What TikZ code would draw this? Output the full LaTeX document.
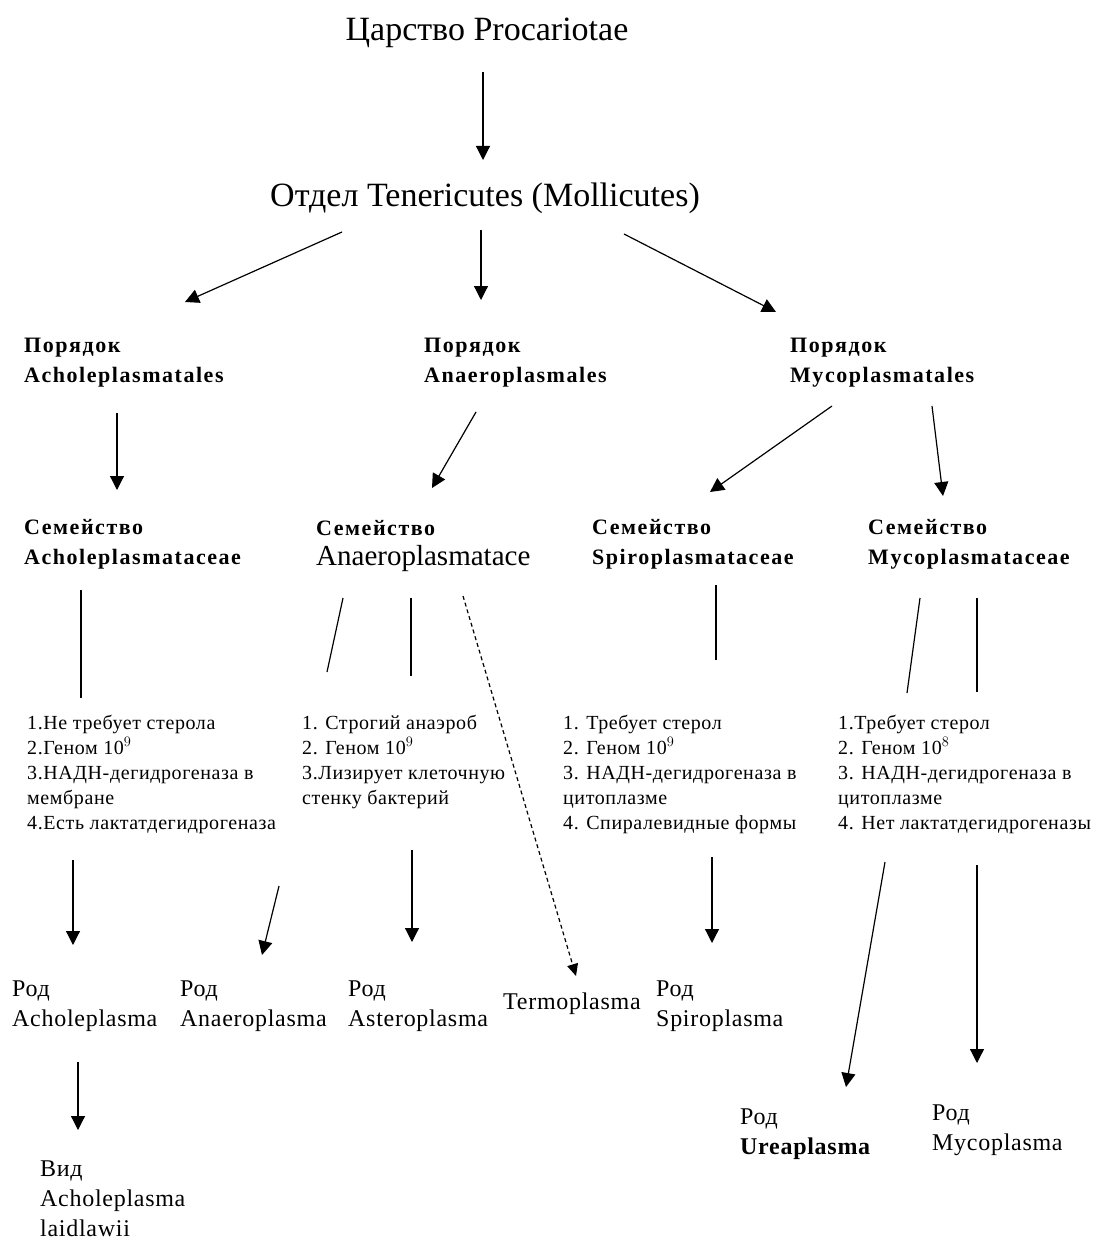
\documentclass[tikz,border=0pt]{standalone}
\usepackage{fontspec}
\setmainfont{Liberation Serif}
\usetikzlibrary{arrows.meta}
\newfontfamily\boldsp[LetterSpace=7]{Liberation Serif Bold}
\newfontfamily\regsp[LetterSpace=3]{Liberation Serif}
\begin{document}
\begin{tikzpicture}[x=1pt,y=-1pt,
  txt/.style={inner sep=0pt,anchor=base west,align=left},
  ttl/.style={inner sep=0pt,anchor=base,font=\fontsize{34}{38}\selectfont},
  hd/.style={txt,font=\boldsp\fontsize{22}{30}\selectfont},
  famr/.style={txt,font=\fontsize{29}{30}\selectfont},
  blk/.style={txt,font=\regsp\fontsize{20}{25}\selectfont},
  gen/.style={txt,font=\regsp\fontsize{24}{30}\selectfont},
  arr/.style={line width=1.2pt,-{Triangle[width=14pt,length=14pt]}},
  ln/.style={line width=1.2pt},
  dsh/.style={line width=1.2pt,dash pattern=on 4pt off 3pt,-{Triangle[width=11pt,length=12pt]}}]
\useasboundingbox (0,0) rectangle (1092,1241);
\fill[white] (0,0) rectangle (1092,1241);

% texts (base anchor = baseline of the last line)
\node[ttl] (kingdom) at (487,41) {Царство Procariotae};
\node[ttl] (division) at (485,207) {Отдел Tenericutes (Mollicutes)};

\node[hd] (o1) at (24,382) {Порядок\\Acholeplasmatales};
\node[hd] (o2) at (424,382) {Порядок\\Anaeroplasmales};
\node[hd] (o3) at (790,382) {Порядок\\Mycoplasmatales};

\node[hd] (f1) at (24,564) {Семейство\\Acholeplasmataceae};
\node[hd] (f2lab) at (316,535) {Семейство};
\node[famr] (f2) at (316,565) {Anaeroplasmatace};
\node[hd] (f3) at (592,564) {Семейство\\Spiroplasmataceae};
\node[hd] (f4) at (868,564) {Семейство\\Mycoplasmataceae};

\node[blk] (b1) at (27,829) {1.Не требует стерола\\2.Геном 10$^{9}$\\3.НАДН-дегидрогеназа в\\мембране\\4.Есть лактатдегидрогеназа};
\node[blk] (b2) at (302,804) {1. Строгий анаэроб\\2. Геном 10$^{9}$\\3.Лизирует клеточную\\стенку бактерий};
\node[blk] (b3) at (563,829) {1. Требует  стерол\\2. Геном 10$^{9}$\\3. НАДН-дегидрогеназа в\\цитоплазме\\4. Спиралевидные формы};
\node[blk] (b4) at (838,829) {1.Требует  стерол\\2. Геном 10$^{8}$\\3. НАДН-дегидрогеназа в\\цитоплазме\\4. Нет лактатдегидрогеназы};

\node[gen] (g1) at (12,1026) {Род\\Acholeplasma};
\node[gen] (g2) at (180,1026) {Род\\Anaeroplasma};
\node[gen] (g3) at (348,1026) {Род\\Asteroplasma};
\node[gen] (g4) at (503,1009) {Termoplasma};
\node[gen] (g5) at (656,1026) {Род\\Spiroplasma};
\node[gen] (g6) at (740,1154) {Род\\{\bfseries Ureaplasma}};
\node[gen] (g7) at (932,1150) {Род\\Mycoplasma};
\node[gen] (sp) at (40,1236) {Вид\\Acholeplasma\\laidlawii};

% connector end points
\coordinate (k0) at (483,72);   \coordinate (k1) at (483,160);
\coordinate (d0) at (342,232);  \coordinate (d1) at (185,302);
\coordinate (d2) at (481,230);  \coordinate (d3) at (481,300);
\coordinate (d4) at (624,234);  \coordinate (d5) at (776,312);
\coordinate (a0) at (117,413);  \coordinate (a1) at (117,490);
\coordinate (a2) at (476,412);  \coordinate (a3) at (432,488);
\coordinate (a4) at (832,406);  \coordinate (a5) at (710,492);
\coordinate (a6) at (932,406);  \coordinate (a7) at (943,496);
\coordinate (l0) at (81,590);   \coordinate (l1) at (81,698);
\coordinate (l2) at (343,598);  \coordinate (l3) at (327,672);
\coordinate (l4) at (411,598);  \coordinate (l5) at (411,676);
\coordinate (t0) at (463,596);  \coordinate (t1) at (576,976);
\coordinate (l6) at (716,585);  \coordinate (l7) at (716,660);
\coordinate (l8) at (920,598);  \coordinate (l9) at (907,693);
\coordinate (l10) at (977,598); \coordinate (l11) at (977,692);
\coordinate (c0) at (73,860);   \coordinate (c1) at (73,945);
\coordinate (c2) at (279,886);  \coordinate (c3) at (262,955);
\coordinate (c4) at (412,850);  \coordinate (c5) at (412,942);
\coordinate (c6) at (712,857);  \coordinate (c7) at (712,943);
\coordinate (c8) at (885,862);  \coordinate (c9) at (846,1087);
\coordinate (c10) at (977,865); \coordinate (c11) at (977,1063);
\coordinate (s0) at (78,1062);  \coordinate (s1) at (78,1130);

\draw[arr] (k0) -- (k1);
\draw[arr] (d0) -- (d1);
\draw[arr] (d2) -- (d3);
\draw[arr] (d4) -- (d5);
\draw[arr] (a0) -- (a1);
\draw[arr] (a2) -- (a3);
\draw[arr] (a4) -- (a5);
\draw[arr] (a6) -- (a7);
\draw[ln] (l0) -- (l1);
\draw[ln] (l2) -- (l3);
\draw[ln] (l4) -- (l5);
\draw[dsh] (t0) -- (t1);
\draw[ln] (l6) -- (l7);
\draw[ln] (l8) -- (l9);
\draw[ln] (l10) -- (l11);
\draw[arr] (c0) -- (c1);
\draw[arr] (c2) -- (c3);
\draw[arr] (c4) -- (c5);
\draw[arr] (c6) -- (c7);
\draw[arr] (c8) -- (c9);
\draw[arr] (c10) -- (c11);
\draw[arr] (s0) -- (s1);
\end{tikzpicture}
\end{document}
